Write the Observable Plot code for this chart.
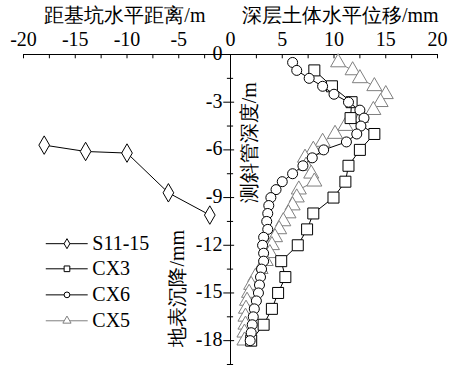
<!DOCTYPE html>
<html><head><meta charset="utf-8">
<script src="https://cdn.jsdelivr.net/npm/d3@7"></script>
<script src="https://cdn.jsdelivr.net/npm/@observablehq/plot@0.6"></script>
<style>
body{margin:0;background:#fff;}
</style></head><body><div id="chart"></div>
<script>
// ---- data ----
const xTicks = [-20,-17.5,-15,-12.5,-10,-7.5,-5,-2.5,0,2.5,5,7.5,10,12.5,15,17.5,20];
const xTickLabels = [-20,-15,-10,-5,0,5,10,15,20];
const yTickLabels = [0,-3,-6,-9,-12,-15,-18];
const yMinorTicks = [-1.5,-4.5,-7.5,-10.5,-13.5,-16.5,-19.5];

const s11Distance   = [-18,-14,-10,-6,-2];
const s11Settlement = [-5.7,-6.1,-6.2,-8.7,-10.1];

const cx3Depth = [-1,-2,-3,-4,-5,-6,-7,-8,-9,-10,-11,-12,-13,-14,-15,-16,-17,-18];
const cx3Disp  = [8.1,9.8,11.7,11.6,13.9,12.5,11.4,11.1,9.95,8.0,7.4,6.5,4.9,5.3,4.6,4.0,3.2,2.0];

const halfDepth = [-0.5,-1,-1.5,-2,-2.5,-3,-3.5,-4,-4.5,-5,-5.5,-6,-6.5,-7,-7.5,-8,-8.5,-9,-9.5,-10,-10.5,-11,-11.5,-12,-12.5,-13,-13.5,-14,-14.5,-15,-15.5,-16,-16.5,-17,-17.5,-18];
const cx6Disp = [6.0,6.4,7.6,8.9,10.0,11.4,12.5,12.9,12.6,12.2,11.2,9.0,7.9,7.0,6.0,5.0,4.4,3.9,3.7,3.6,3.5,3.6,3.2,3.1,3.2,3.2,3.0,2.9,2.8,2.7,2.5,2.3,2.2,2.1,2.0,1.9];
const cx5Disp = [10.4,11.8,12.5,13.9,15.0,14.5,13.8,12.6,11.1,10.1,8.9,8.0,7.2,7.3,7.8,8.1,6.6,6.4,6.0,5.6,5.1,4.7,4.3,4.0,3.8,3.4,2.9,2.4,2.0,1.8,1.6,1.5,1.45,1.45,1.35,1.35];

const seriesNames = ["S11-15","CX3","CX6","CX5"];
const titleLeft = "距基坑水平距离/m";
const titleRight = "深层土体水平位移/mm";
const labelDepth = "测斜管深度/m";
const labelSettle = "地表沉降/mm";

// ---- layout / style ----
const FONT = "Liberation Serif";
const GRAY = "#7f7f7f";
const style = {
  "S11-15": {symbol:"diamond", r:5.6, color:"black"},
  "CX3": {symbol:"square", r:6.2, color:"black"},
  "CX6": {symbol:"circle", r:5, color:"black"},
  "CX5": {symbol:"triangle", r:5.6, color:GRAY}
};
const legendRowsY = [-11.9,-13.48,-15.12,-16.75];
const legendX = {x1:-17.8, x2:-13.75, mark:-15.8, text:-13.35};

const s11 = s11Distance.map((x,i)=>({x, y:s11Settlement[i]}));
const cx3 = cx3Depth.map((y,i)=>({x:cx3Disp[i], y}));
const cx6 = halfDepth.map((y,i)=>({x:cx6Disp[i], y}));
const cx5 = halfDepth.map((y,i)=>({x:cx5Disp[i], y}));
const legend = seriesNames.map((name,i)=>({name, y:legendRowsY[i], ...style[name]}));

function series(data, name){
  const s = style[name];
  return [
    Plot.line(data, {x:"x", y:"y", stroke:s.color, strokeWidth:1}),
    Plot.dot(data, {x:"x", y:"y", symbol:s.symbol, r:s.r, stroke:s.color, fill:"white", strokeWidth:1})
  ];
}
const T = {fontSize:20, fontFamily:FONT, fill:"black"};

const chart = Plot.plot({
  width:451, height:374,
  marginLeft:23, marginRight:14, marginTop:54, marginBottom:10,
  x:{domain:[-20,20], axis:null},
  y:{domain:[-19.5,0], axis:null},
  style:{fontFamily:FONT, fontSize:"20px", background:"white"},
  marks:[
    // top x axis
    Plot.ruleY([0], {stroke:"black"}),
    Plot.ruleX(xTicks, {x:d=>d, y1:0, y2:-0.27, stroke:"black"}),
    Plot.text(xTickLabels, {x:d=>d, text:d=>String(d), frameAnchor:"top", lineAnchor:"middle", dy:-15, ...T}),
    Plot.text([titleLeft], {x:-10.2, frameAnchor:"top", lineAnchor:"middle", dy:-39, ...T}),
    Plot.text([titleRight], {x:10.6, frameAnchor:"top", lineAnchor:"middle", dy:-39, ...T}),
    // central y axis
    Plot.ruleX([0], {y1:-19.5, y2:0, stroke:"black"}),
    Plot.ruleY(yTickLabels, {y:d=>d, x1:-0.65, x2:0.4, stroke:"black"}),
    Plot.ruleY(yMinorTicks, {y:d=>d, x1:-0.3, x2:0.3, stroke:"black"}),
    Plot.text(yTickLabels, {x:0, y:d=>d, text:d=>String(d), textAnchor:"end", dx:-8, dy:-1, ...T}),
    Plot.text([labelDepth], {x:1.85, y:-5.55, rotate:-90, ...T}),
    Plot.text([labelSettle], {x:-5.1, y:-14.7, rotate:-90, ...T}),
    // series
    ...series(cx5, "CX5"),
    ...series(cx3, "CX3"),
    ...series(cx6, "CX6"),
    ...series(s11, "S11-15"),
    // legend
    Plot.ruleY(legend, {y:"y", x1:legendX.x1, x2:legendX.x2, stroke:"color", strokeWidth:1}),
    Plot.dot(legend, {x:legendX.mark, y:"y", symbol:"symbol", r:"r", stroke:"color", fill:"white", strokeWidth:1}),
    Plot.text(legend, {x:legendX.text, y:"y", text:"name", textAnchor:"start", ...T})
  ]
});
document.getElementById("chart").append(chart);
</script></body></html>
